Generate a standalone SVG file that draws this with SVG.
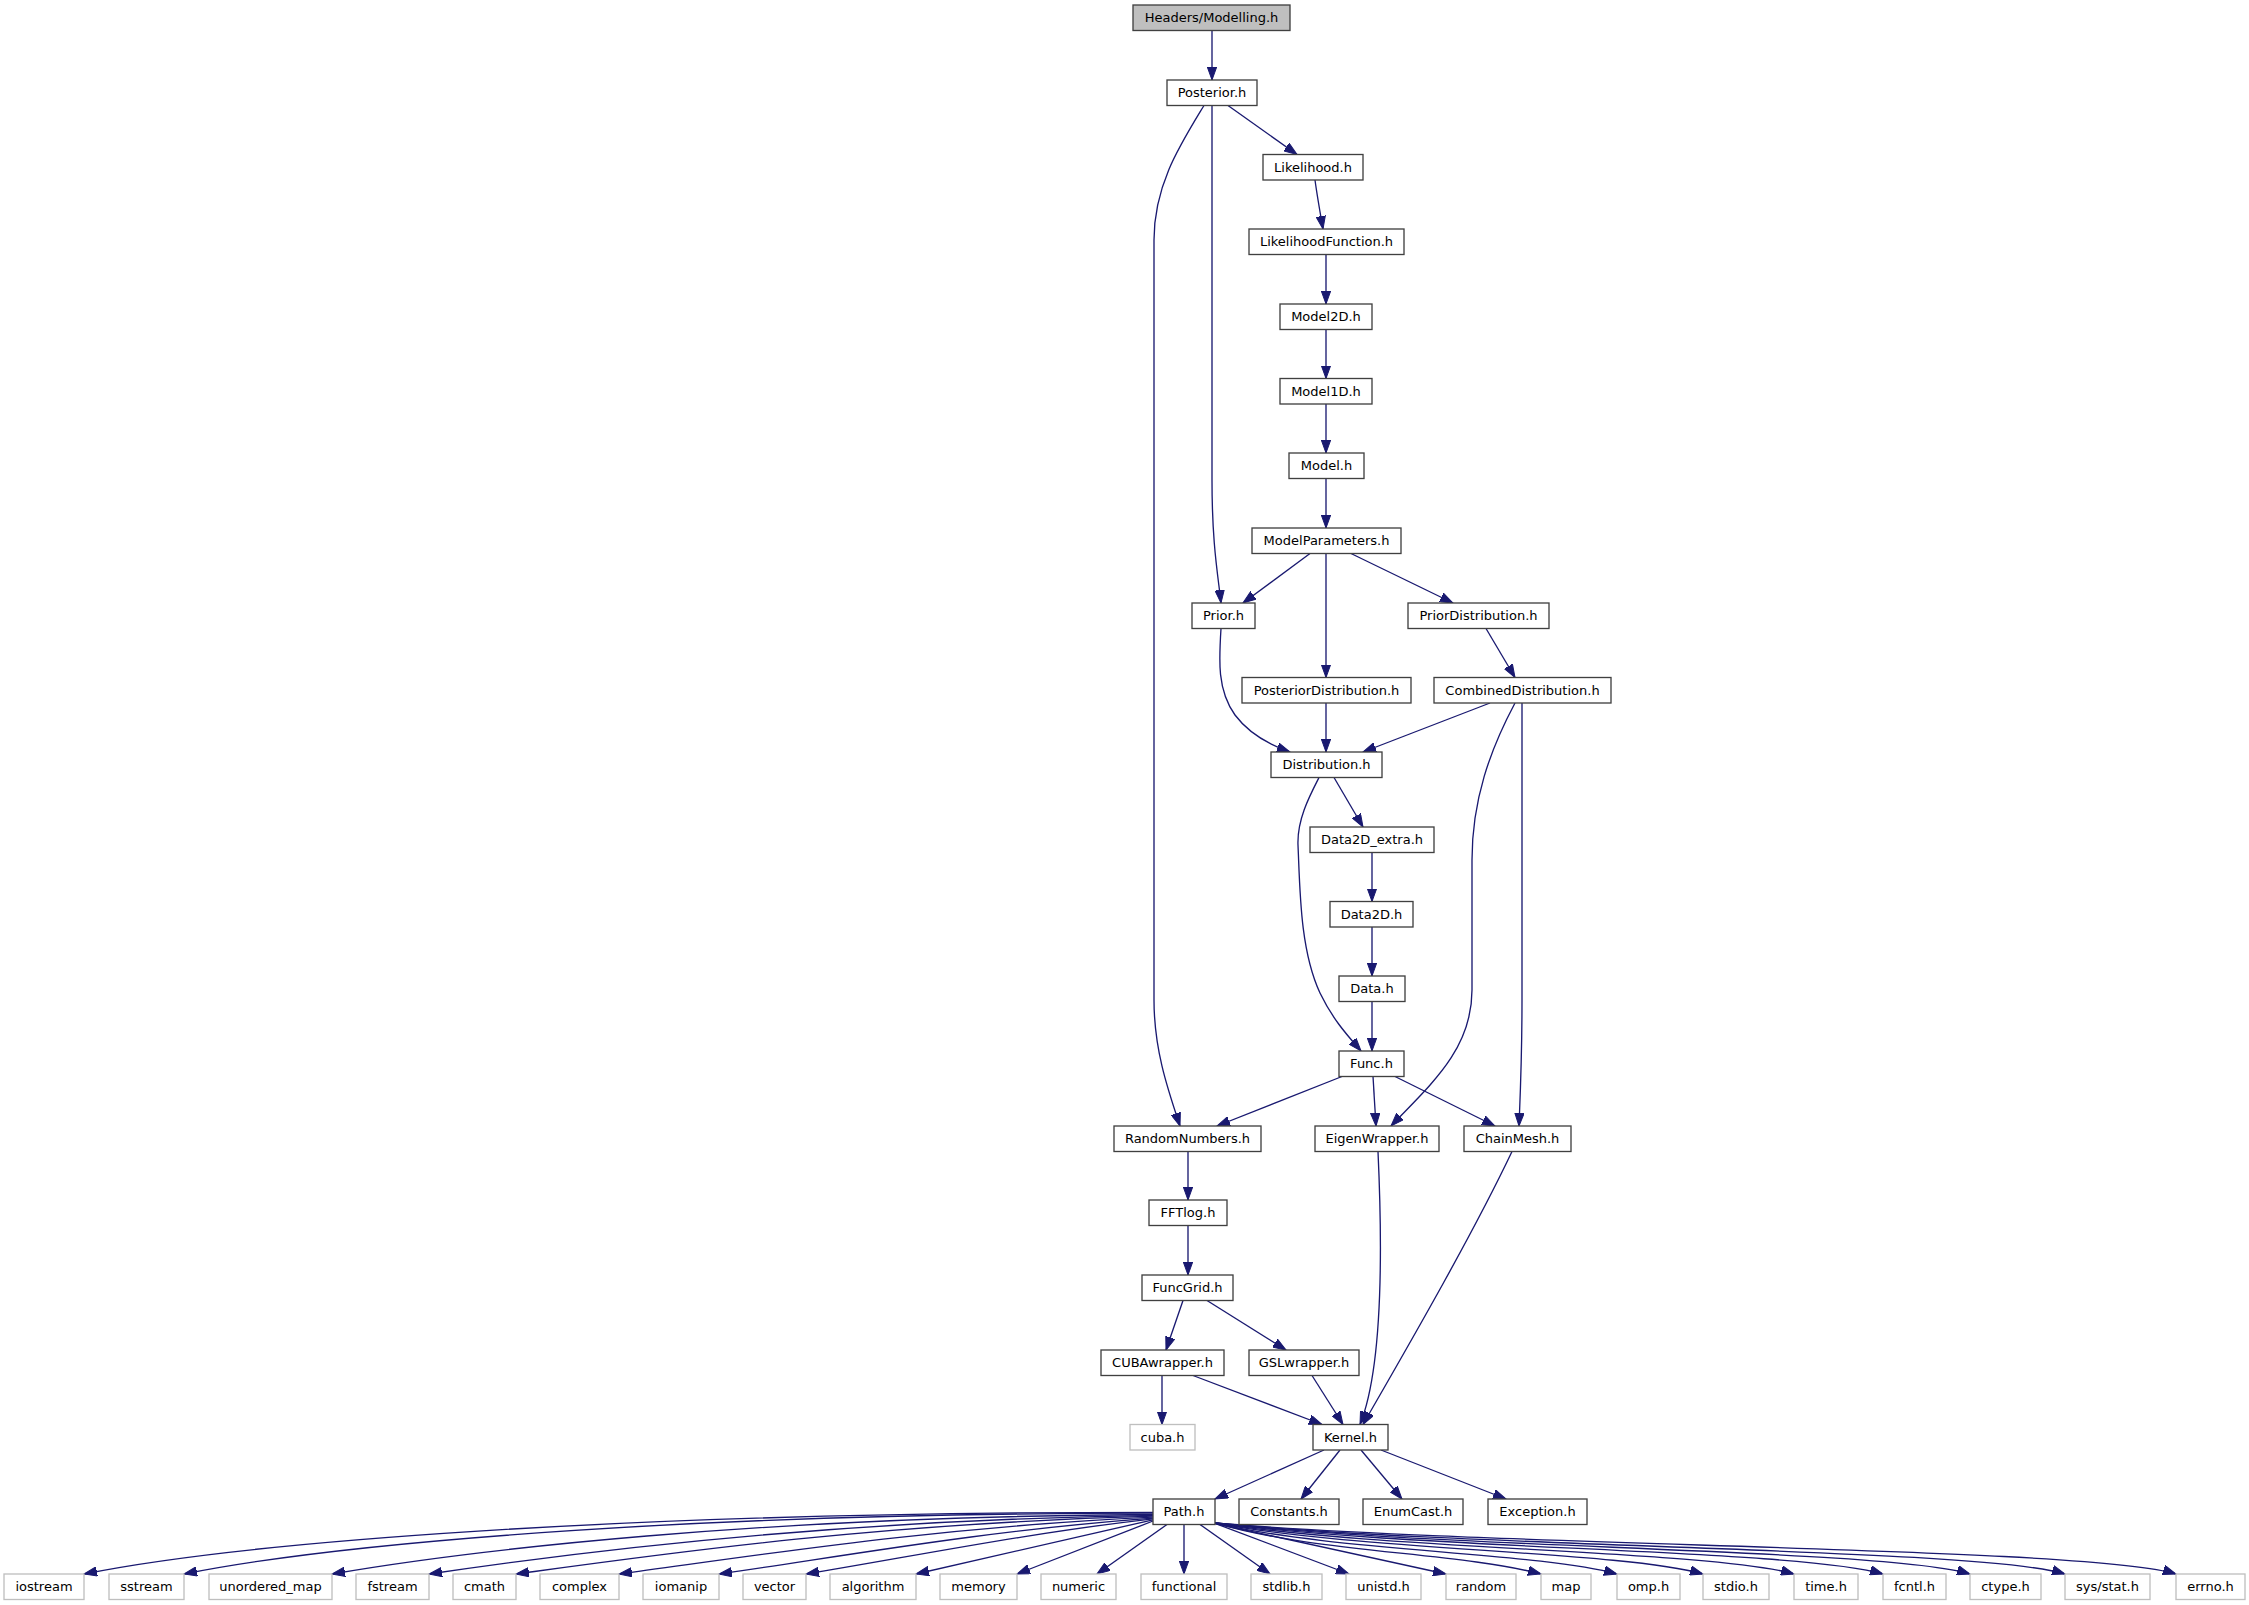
<svg xmlns="http://www.w3.org/2000/svg" width="2249" height="1605" viewBox="0 0 2249 1605">
<defs>
<style>
.n rect{fill:#ffffff;stroke:#404040;stroke-width:1.33}
.r rect{fill:#bfbfbf;stroke:#404040;stroke-width:1.33}
.x rect{fill:#ffffff;stroke:#bfbfbf;stroke-width:1.33}
text{font-family:"DejaVu Sans","Liberation Sans",sans-serif;font-size:13px;text-anchor:middle;fill:#000000}
#edges path{fill:none;stroke:#191970;stroke-width:1.33;marker-end:url(#a)}
</style>
<marker id="a" markerUnits="userSpaceOnUse" viewBox="0 0 14 10" markerWidth="14" markerHeight="10" refX="13" refY="5" orient="auto">
<path d="M0,0.3 L13,5 L0,9.7 z" fill="#191970" stroke="#191970" stroke-width="1"/>
</marker>
</defs>
<rect x="0" y="0" width="2249" height="1605" fill="#ffffff"/>
<g id="edges">
<path d="M1212,30.5 L1212,80"/>
<path d="M1228,105.5 L1297,154.5"/>
<path d="M1212,105.5 L1212,480 C1212,545 1218,575 1221,603"/>
<path d="M1204,105.5 C1180,145 1154,185 1154,240 L1154,1000 C1154,1050 1168,1090 1180,1126"/>
<path d="M1315,180 C1317,195 1320,212 1323,229"/>
<path d="M1326,254.5 L1326,304"/>
<path d="M1326,329.5 L1326,378.5"/>
<path d="M1326,404 L1326,453"/>
<path d="M1326,478.5 L1326,528"/>
<path d="M1310,553.5 L1243,603"/>
<path d="M1326,553.5 L1326,677.5"/>
<path d="M1351,553.5 L1453,603"/>
<path d="M1221,628.5 C1219,660 1217,690 1235,715 C1250,735 1270,745 1290,752"/>
<path d="M1486,628.5 L1515,677.5"/>
<path d="M1326,703 L1326,752"/>
<path d="M1490,703 L1363,752"/>
<path d="M1515,703 C1490,750 1472,800 1472,860 L1472,990 C1472,1050 1430,1085 1391,1126"/>
<path d="M1522,703 L1522,1000 C1522,1060 1520,1100 1519,1126"/>
<path d="M1334,777.5 L1363,827"/>
<path d="M1319,777.5 C1309,797 1297,820 1298,845 C1300,890 1300,950 1320,993 C1333,1020 1348,1036 1361,1051"/>
<path d="M1372,852.5 L1372,901.5"/>
<path d="M1372,927 L1372,976"/>
<path d="M1372,1001.5 L1372,1051"/>
<path d="M1342,1076.5 L1217,1126"/>
<path d="M1373,1076.5 L1376,1126"/>
<path d="M1395,1076.5 L1495,1126"/>
<path d="M1188,1151.5 L1188,1200"/>
<path d="M1188,1225.5 L1188,1275"/>
<path d="M1183,1300.5 L1166,1350"/>
<path d="M1207,1300.5 L1286,1350"/>
<path d="M1162,1375.5 L1162,1424.5"/>
<path d="M1193,1375.5 L1322,1424.5"/>
<path d="M1312,1375.5 L1343,1424.5"/>
<path d="M1378,1151.5 C1383,1260 1382,1370 1360,1424.5"/>
<path d="M1512,1151.5 C1470,1240 1400,1360 1363,1424.5"/>
<path d="M1324,1450 L1215,1499"/>
<path d="M1340,1450 L1301,1499"/>
<path d="M1361,1450 L1402,1499"/>
<path d="M1381,1450 L1506,1499"/>
<path d="M1153,1512.3 C618.5,1512.3 244.4,1541.9 84,1574"/>
<path d="M1153,1513.2 C668.5,1513.2 329.4,1544.9 184,1574"/>
<path d="M1153,1514.5 C758,1516.7 472.2,1549.9 332,1574"/>
<path d="M1153,1515.4 C821.3,1520.3 570.9,1552.9 429,1574"/>
<path d="M1153,1516.2 C874.4,1523.4 655.4,1554.9 516,1574"/>
<path d="M1153,1517.1 C932.5,1527.1 750.3,1556.5 619,1574"/>
<path d="M1153,1518.1 C984.1,1530.4 837.1,1557.3 719,1574"/>
<path d="M1153,1518.8 C1025.2,1533.4 908.3,1557.3 806,1574"/>
<path d="M1153,1519.8 L916,1574"/>
<path d="M1153,1521 L1017,1574"/>
<path d="M1167,1524.5 L1097,1574"/>
<path d="M1184,1524.5 L1184,1574"/>
<path d="M1200,1524.5 L1270,1574"/>
<path d="M1214,1523 L1349,1574"/>
<path d="M1215,1523.5 L1446,1574"/>
<path d="M1215,1523 C1312.8,1552.3 1458,1552.3 1541,1574"/>
<path d="M1215,1523 C1335.6,1551.7 1534,1551.7 1617,1574"/>
<path d="M1215,1523 C1361.4,1550.9 1620,1550.9 1703,1574"/>
<path d="M1215,1523 C1388.7,1550.2 1711,1550.2 1794,1574"/>
<path d="M1215,1523 C1415.4,1549.4 1800,1549.4 1883,1574"/>
<path d="M1215,1523 C1441.5,1548.7 1887,1548.7 1970,1574"/>
<path d="M1215,1523 C1470,1548 1982,1548 2065,1574"/>
<path d="M1215,1523 C1503.3,1547 2093,1547 2176,1574"/>
</g>
<g id="n0" class="r"><rect x="1133" y="5" width="157" height="25.5"/><text x="1211.5" y="22.3">Headers/Modelling.h</text></g>
<g id="n1" class="n"><rect x="1167" y="80" width="90" height="25.5"/><text x="1212" y="97.3">Posterior.h</text></g>
<g id="n2" class="n"><rect x="1263" y="154.5" width="100" height="25.5"/><text x="1313" y="171.8">Likelihood.h</text></g>
<g id="n3" class="n"><rect x="1249" y="229" width="155" height="25.5"/><text x="1326.5" y="246.3">LikelihoodFunction.h</text></g>
<g id="n4" class="n"><rect x="1280" y="304" width="92" height="25.5"/><text x="1326" y="321.3">Model2D.h</text></g>
<g id="n5" class="n"><rect x="1280" y="378.5" width="92" height="25.5"/><text x="1326" y="395.8">Model1D.h</text></g>
<g id="n6" class="n"><rect x="1289" y="453" width="75" height="25.5"/><text x="1326.5" y="470.3">Model.h</text></g>
<g id="n7" class="n"><rect x="1252" y="528" width="149" height="25.5"/><text x="1326.5" y="545.3">ModelParameters.h</text></g>
<g id="n8" class="n"><rect x="1192" y="603" width="63" height="25.5"/><text x="1223.5" y="620.3">Prior.h</text></g>
<g id="n9" class="n"><rect x="1408" y="603" width="141" height="25.5"/><text x="1478.5" y="620.3">PriorDistribution.h</text></g>
<g id="n10" class="n"><rect x="1242" y="677.5" width="169" height="25.5"/><text x="1326.5" y="694.8">PosteriorDistribution.h</text></g>
<g id="n11" class="n"><rect x="1434" y="677.5" width="177" height="25.5"/><text x="1522.5" y="694.8">CombinedDistribution.h</text></g>
<g id="n12" class="n"><rect x="1271" y="752" width="111" height="25.5"/><text x="1326.5" y="769.3">Distribution.h</text></g>
<g id="n13" class="n"><rect x="1310" y="827" width="124" height="25.5"/><text x="1372" y="844.3">Data2D_extra.h</text></g>
<g id="n14" class="n"><rect x="1330" y="901.5" width="83" height="25.5"/><text x="1371.5" y="918.8">Data2D.h</text></g>
<g id="n15" class="n"><rect x="1339" y="976" width="66" height="25.5"/><text x="1372" y="993.3">Data.h</text></g>
<g id="n16" class="n"><rect x="1339" y="1051" width="65" height="25.5"/><text x="1371.5" y="1068.3">Func.h</text></g>
<g id="n17" class="n"><rect x="1114" y="1126" width="147" height="25.5"/><text x="1187.5" y="1143.3">RandomNumbers.h</text></g>
<g id="n18" class="n"><rect x="1315" y="1126" width="124" height="25.5"/><text x="1377" y="1143.3">EigenWrapper.h</text></g>
<g id="n19" class="n"><rect x="1464" y="1126" width="107" height="25.5"/><text x="1517.5" y="1143.3">ChainMesh.h</text></g>
<g id="n20" class="n"><rect x="1149" y="1200" width="78" height="25.5"/><text x="1188" y="1217.3">FFTlog.h</text></g>
<g id="n21" class="n"><rect x="1142" y="1275" width="91" height="25.5"/><text x="1187.5" y="1292.3">FuncGrid.h</text></g>
<g id="n22" class="n"><rect x="1101" y="1350" width="123" height="25.5"/><text x="1162.5" y="1367.3">CUBAwrapper.h</text></g>
<g id="n23" class="n"><rect x="1249" y="1350" width="110" height="25.5"/><text x="1304" y="1367.3">GSLwrapper.h</text></g>
<g id="n24" class="x"><rect x="1130" y="1424.5" width="65" height="25.5"/><text x="1162.5" y="1441.8">cuba.h</text></g>
<g id="n25" class="n"><rect x="1313" y="1424.5" width="75" height="25.5"/><text x="1350.5" y="1441.8">Kernel.h</text></g>
<g id="n26" class="n"><rect x="1153" y="1499" width="62" height="25.5"/><text x="1184" y="1516.3">Path.h</text></g>
<g id="n27" class="n"><rect x="1239" y="1499" width="100" height="25.5"/><text x="1289" y="1516.3">Constants.h</text></g>
<g id="n28" class="n"><rect x="1363" y="1499" width="100" height="25.5"/><text x="1413" y="1516.3">EnumCast.h</text></g>
<g id="n29" class="n"><rect x="1488" y="1499" width="99" height="25.5"/><text x="1537.5" y="1516.3">Exception.h</text></g>
<g id="n30" class="x"><rect x="4" y="1574" width="80" height="25.5"/><text x="44" y="1591.3">iostream</text></g>
<g id="n31" class="x"><rect x="109" y="1574" width="75" height="25.5"/><text x="146.5" y="1591.3">sstream</text></g>
<g id="n32" class="x"><rect x="209" y="1574" width="123" height="25.5"/><text x="270.5" y="1591.3">unordered_map</text></g>
<g id="n33" class="x"><rect x="356" y="1574" width="73" height="25.5"/><text x="392.5" y="1591.3">fstream</text></g>
<g id="n34" class="x"><rect x="453" y="1574" width="63" height="25.5"/><text x="484.5" y="1591.3">cmath</text></g>
<g id="n35" class="x"><rect x="540" y="1574" width="79" height="25.5"/><text x="579.5" y="1591.3">complex</text></g>
<g id="n36" class="x"><rect x="643" y="1574" width="76" height="25.5"/><text x="681" y="1591.3">iomanip</text></g>
<g id="n37" class="x"><rect x="743" y="1574" width="63" height="25.5"/><text x="774.5" y="1591.3">vector</text></g>
<g id="n38" class="x"><rect x="830" y="1574" width="86" height="25.5"/><text x="873" y="1591.3">algorithm</text></g>
<g id="n39" class="x"><rect x="940" y="1574" width="77" height="25.5"/><text x="978.5" y="1591.3">memory</text></g>
<g id="n40" class="x"><rect x="1041" y="1574" width="75" height="25.5"/><text x="1078.5" y="1591.3">numeric</text></g>
<g id="n41" class="x"><rect x="1141" y="1574" width="86" height="25.5"/><text x="1184" y="1591.3">functional</text></g>
<g id="n42" class="x"><rect x="1251" y="1574" width="71" height="25.5"/><text x="1286.5" y="1591.3">stdlib.h</text></g>
<g id="n43" class="x"><rect x="1346" y="1574" width="75" height="25.5"/><text x="1383.5" y="1591.3">unistd.h</text></g>
<g id="n44" class="x"><rect x="1446" y="1574" width="70" height="25.5"/><text x="1481" y="1591.3">random</text></g>
<g id="n45" class="x"><rect x="1541" y="1574" width="50" height="25.5"/><text x="1566" y="1591.3">map</text></g>
<g id="n46" class="x"><rect x="1617" y="1574" width="63" height="25.5"/><text x="1648.5" y="1591.3">omp.h</text></g>
<g id="n47" class="x"><rect x="1703" y="1574" width="66" height="25.5"/><text x="1736" y="1591.3">stdio.h</text></g>
<g id="n48" class="x"><rect x="1794" y="1574" width="64" height="25.5"/><text x="1826" y="1591.3">time.h</text></g>
<g id="n49" class="x"><rect x="1883" y="1574" width="63" height="25.5"/><text x="1914.5" y="1591.3">fcntl.h</text></g>
<g id="n50" class="x"><rect x="1970" y="1574" width="71" height="25.5"/><text x="2005.5" y="1591.3">ctype.h</text></g>
<g id="n51" class="x"><rect x="2065" y="1574" width="85" height="25.5"/><text x="2107.5" y="1591.3">sys/stat.h</text></g>
<g id="n52" class="x"><rect x="2176" y="1574" width="69" height="25.5"/><text x="2210.5" y="1591.3">errno.h</text></g>
</svg>
